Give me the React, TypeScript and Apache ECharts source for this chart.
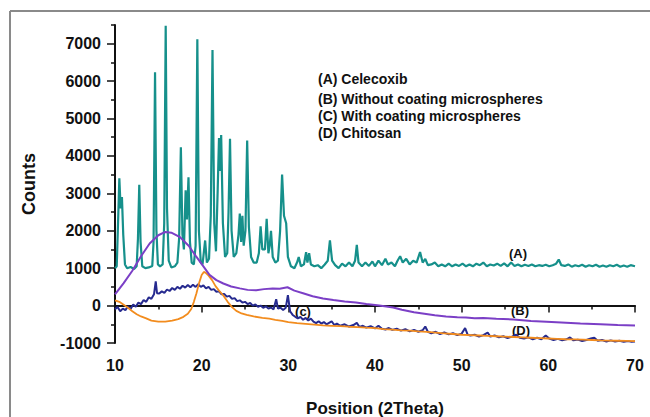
import React, { useEffect, useRef } from "react";
import * as echarts from "echarts";

// ---- Data ----
const xTicks = [10, 20, 30, 40, 50, 60, 70];
const yMajorTicks = [-1000, 0, 1000, 2000, 3000, 4000, 5000, 6000, 7000];
const yMinorTicks = [-500, 500, 1500, 2500, 3500, 4500, 5500, 6500, 7500];

const legendLines = [
  "(A) Celecoxib",
  "(B) Without coating microspheres",
  "(C) With coating microspheres",
  "(D) Chitosan",
];

const curveLabels = ["(A)", "(B)", "(c)", "(D)"];

// (A) Celecoxib
const seriesA: number[][] = [
  [10, 1000], [10.2, 1050], [10.35, 2200], [10.5, 3400], [10.65, 2600], [10.8, 2900], [10.95, 1900],
  [11.15, 1100], [11.4, 1000], [11.8, 1030], [12.2, 980], [12.5, 1050], [12.65, 1800], [12.8, 3230],
  [12.95, 1700], [13.15, 1050], [13.5, 1000], [13.9, 1020], [14.3, 1060], [14.45, 1700], [14.62, 6240],
  [14.78, 2000], [14.95, 1100], [15.2, 1050], [15.5, 1100], [15.68, 2200], [15.85, 7480], [16.0, 2600],
  [16.2, 1200], [16.5, 1020], [16.9, 1050], [17.2, 1150], [17.4, 1800], [17.6, 4230], [17.78, 1900],
  [17.95, 1500], [18.15, 3080], [18.3, 2300], [18.48, 3430], [18.65, 1700], [18.85, 1150], [19.1, 1100],
  [19.3, 1600], [19.5, 7120], [19.68, 2000], [19.9, 1150], [20.1, 1100], [20.4, 1740], [20.6, 1150],
  [20.85, 1250], [21.05, 2400], [21.25, 6830], [21.45, 2200], [21.65, 1450], [21.85, 3100], [22.0, 4480],
  [22.12, 3600], [22.25, 4560], [22.45, 2200], [22.7, 1300], [22.95, 1400], [23.1, 2500], [23.27, 4460],
  [23.45, 2000], [23.7, 1300], [24.0, 1400], [24.25, 1900], [24.4, 2460], [24.55, 1700], [24.7, 2400],
  [24.85, 1600], [25.05, 2000], [25.25, 4410], [25.45, 2100], [25.7, 1300], [26.0, 1150], [26.35, 1150],
  [26.6, 1400], [26.8, 2120], [27.0, 1500], [27.3, 1500], [27.5, 2320], [27.7, 1400], [27.85, 1600],
  [28.0, 2000], [28.2, 1300], [28.5, 1150], [28.8, 1200], [29.05, 2000], [29.28, 3500], [29.5, 2400],
  [29.75, 2200], [29.95, 1300], [30.3, 1050], [30.7, 1000], [31.0, 1150], [31.2, 1300], [31.45, 1050],
  [31.8, 1100], [32.05, 1430], [32.2, 1150], [32.4, 1400], [32.6, 1100], [33.0, 1050], [33.4, 1080],
  [33.8, 1000], [34.2, 1100], [34.55, 1200], [34.8, 1740], [35.05, 1200], [35.4, 1080], [35.8, 1000],
  [36.2, 1120], [36.6, 1050], [37.0, 1150], [37.4, 1050], [37.7, 1200], [37.9, 1620], [38.1, 1150],
  [38.5, 1050], [38.9, 1150], [39.3, 1060], [39.7, 1180], [40.0, 1050], [40.4, 1200], [40.8, 1080],
  [41.2, 1250], [41.5, 1100], [41.9, 1150], [42.3, 1050], [42.6, 1200], [42.9, 1320], [43.2, 1150],
  [43.6, 1250], [44.0, 1100], [44.4, 1200], [44.8, 1150], [45.2, 1430], [45.5, 1150], [45.8, 1250],
  [46.1, 1080], [46.5, 1100], [46.9, 1150], [47.3, 1050], [47.7, 1100], [48.1, 1050], [48.5, 1120],
  [48.9, 1050], [49.3, 1100], [49.7, 1060], [50.1, 1120], [50.5, 1050], [50.9, 1100], [51.3, 1050],
  [51.7, 1120], [52.1, 1080], [52.5, 1150], [52.9, 1050], [53.3, 1100], [53.7, 1070], [54.1, 1120],
  [54.5, 1060], [54.9, 1130], [55.3, 1050], [55.7, 1150], [56.1, 1060], [56.5, 1100], [56.9, 1050],
  [57.3, 1090], [57.7, 1060], [58.1, 1100], [58.5, 1050], [58.9, 1080], [59.3, 1060], [59.7, 1090],
  [60.1, 1050], [60.5, 1080], [60.9, 1120], [61.2, 1230], [61.5, 1080], [61.9, 1060], [62.3, 1100],
  [62.7, 1040], [63.1, 1080], [63.5, 1050], [63.9, 1090], [64.3, 1040], [64.7, 1080], [65.1, 1050],
  [65.5, 1090], [65.9, 1040], [66.3, 1070], [66.7, 1040], [67.1, 1080], [67.5, 1050], [67.9, 1090],
  [68.3, 1040], [68.7, 1070], [69.1, 1040], [69.5, 1080], [70.0, 1050],
];

// (B) Without coating microspheres
const seriesB: number[][] = [
  [10, 300], [11, 600], [12, 930], [13, 1320], [14, 1660], [15, 1880], [15.8, 1970], [16.5, 1950],
  [17.5, 1830], [18.5, 1600], [19.4, 1300], [20.2, 1050], [20.9, 820], [21.7, 680], [22.5, 590],
  [23.4, 510], [24.4, 460], [25.3, 420], [26.3, 410], [27.2, 440], [28.2, 460], [29.0, 450], [29.9, 490],
  [30.7, 400], [31.7, 330], [32.8, 250], [34.0, 190], [35.2, 150], [36.5, 110], [37.8, 80], [39.0, 40],
  [40.5, 0], [42.1, -50], [43.1, -110], [44.5, -180], [45.7, -220], [46.9, -260], [48.2, -290],
  [49.5, -310], [50.5, -320], [51.5, -340], [52.5, -330], [54.0, -350], [56.0, -370], [58.0, -410],
  [59.8, -430], [61.5, -450], [63.7, -480], [66.0, -500], [68.0, -520], [70.0, -530],
];

// (C) With coating microspheres
const seriesC: number[][] = [
  [10, -100], [10.3, -40], [10.6, -150], [10.9, -80], [11.2, -120], [11.5, -20], [11.8, -90], [12.1, 30],
  [12.4, -30], [12.7, 80], [13.0, 40], [13.3, 150], [13.6, 100], [13.9, 220], [14.2, 180], [14.5, 300],
  [14.7, 650], [14.85, 330], [15.1, 320], [15.4, 380], [15.7, 340], [16.0, 430], [16.3, 390], [16.6, 470],
  [16.9, 420], [17.2, 500], [17.5, 450], [17.8, 530], [18.1, 480], [18.4, 550], [18.7, 490], [19.0, 560],
  [19.3, 500], [19.6, 570], [19.9, 500], [20.2, 540], [20.5, 460], [20.8, 500], [21.1, 420], [21.4, 440],
  [21.7, 370], [22.0, 380], [22.3, 300], [22.6, 310], [22.9, 240], [23.2, 260], [23.5, 180], [23.8, 200],
  [24.1, 120], [24.4, 140], [24.7, 80], [25.0, 100], [25.3, 40], [25.6, 70], [25.9, 0], [26.2, 30],
  [26.5, -30], [26.8, 0], [27.1, -60], [27.4, -20], [27.7, -80], [28.0, -50], [28.3, -100], [28.6, 170],
  [28.8, -80], [29.1, -60], [29.4, -120], [29.7, -60], [29.95, 280], [30.2, -150], [30.5, -250],
  [30.8, -300], [31.1, -340], [31.4, -300], [31.7, -380], [32.0, -330], [32.3, -400], [32.6, -350],
  [32.9, -430], [33.2, -470], [33.5, -420], [33.8, -480], [34.1, -440], [34.4, -500], [34.7, -460],
  [35.0, -420], [35.3, -520], [35.6, -480], [36.0, -540], [36.5, -500], [37.0, -560], [37.5, -520],
  [37.9, -460], [38.2, -570], [38.6, -540], [39.0, -590], [39.5, -550], [40.0, -610], [40.4, -540],
  [40.8, -620], [41.2, -640], [41.6, -600], [42.0, -650], [42.5, -620], [43.0, -670], [43.5, -630],
  [44.0, -690], [44.5, -650], [45.0, -700], [45.5, -660], [45.8, -560], [46.1, -700], [46.5, -740],
  [47.0, -700], [47.5, -760], [48.0, -720], [48.5, -770], [49.0, -740], [49.5, -790], [50.0, -750],
  [50.4, -600], [50.7, -780], [51.0, -800], [51.5, -780], [52.0, -830], [52.5, -790], [53.0, -720],
  [53.3, -830], [53.8, -800], [54.3, -850], [54.8, -820], [55.3, -870], [55.8, -830], [56.3, -780],
  [56.7, -860], [57.2, -880], [57.7, -850], [58.2, -900], [58.7, -860], [59.2, -900], [59.7, -800],
  [60.1, -880], [60.6, -920], [61.1, -890], [61.6, -930], [62.1, -900], [62.5, -850], [62.9, -930],
  [63.4, -910], [63.9, -950], [64.4, -920], [64.9, -880], [65.3, -860], [65.7, -940], [66.2, -920],
  [66.7, -960], [67.2, -930], [67.7, -960], [68.2, -940], [68.7, -970], [69.2, -950], [69.6, -970],
  [70.0, -960],
];

// (D) Chitosan
const seriesD: number[][] = [
  [10, 140], [10.5, 100], [11, 20], [11.5, -60], [12, -150], [12.5, -230], [13, -290], [13.6, -340],
  [14.2, -400], [15.0, -430], [15.8, -430], [16.6, -400], [17.3, -360], [17.9, -300], [18.4, -220],
  [18.8, -90], [19.1, 100], [19.4, 330], [19.7, 600], [20.0, 820], [20.25, 900], [20.5, 870],
  [20.8, 800], [21.2, 680], [21.6, 520], [22.0, 400], [22.5, 270], [23.0, 100], [23.5, -40],
  [24.0, -140], [24.6, -210], [25.2, -250], [26.0, -290], [27.0, -330], [27.8, -350], [28.5, -380],
  [29.3, -410], [30.0, -440], [31.0, -470], [32.0, -490], [33.0, -510], [34.0, -530], [35.0, -540],
  [36.0, -550], [37.0, -565], [38.0, -575], [39.0, -590], [40.0, -600], [41.0, -630], [42.0, -640],
  [43.0, -660], [44.0, -670], [45.0, -690], [46.0, -700], [47.0, -720], [48.0, -740], [49.0, -760],
  [50.0, -780], [51.0, -790], [52.0, -800], [53.0, -810], [54.0, -820], [55.0, -830], [56.0, -840],
  [57.0, -850], [58.0, -860], [59.0, -870], [60.0, -880], [61.0, -890], [62.0, -900], [63.0, -905],
  [64.0, -910], [65.0, -920], [66.0, -930], [67.0, -935], [68.0, -940], [69.0, -945], [70.0, -950],
];

const FONT = '"Liberation Sans", Arial, sans-serif';
const colA = "#16908b";
const colB = "#7b3fc6";
const colC = "#262a8f";
const colD = "#f28c1e";

export default function App() {
  const ref = useRef<HTMLDivElement>(null);

  useEffect(() => {
    if (!ref.current) return;
    const chart = echarts.init(ref.current, undefined, { renderer: "svg" });

    const lineSeries = (name: string, data: number[][], color: string, width: number) => ({
      name,
      type: "line",
      data,
      showSymbol: false,
      symbol: "none",
      smooth: false,
      lineStyle: { color, width },
      itemStyle: { color },
      xAxisIndex: 0,
      yAxisIndex: 0,
    });

    const legendYs = [79, 99, 116, 133];
    const labelPos = [
      [518, 253],
      [520, 310],
      [303, 311],
      [521, 330],
    ];

    const plainNum = (v: number) => String(v);

    chart.setOption({
      animation: false,
      backgroundColor: "#ffffff",
      grid: { left: 115, right: 15, top: 25, bottom: 74, containLabel: false },
      xAxis: [
        {
          type: "value",
          min: 10,
          max: 70,
          interval: 10,
          axisLine: { show: true, lineStyle: { color: "#111", width: 2 } },
          axisTick: { show: true, inside: false, length: 7, lineStyle: { color: "#111", width: 1.5 } },
          minorTick: { show: true, splitNumber: 2, length: 4, lineStyle: { color: "#111", width: 1.5 } },
          splitLine: { show: false },
          axisLabel: {
            customValues: xTicks,
            formatter: plainNum,
            margin: 14,
            color: "#111",
            fontSize: 16,
            fontWeight: "bold",
            fontFamily: FONT,
          },
        },
      ],
      yAxis: [
        {
          type: "value",
          min: -1000,
          max: 7500,
          position: "left",
          axisLine: { show: true, lineStyle: { color: "#111", width: 2 } },
          axisTick: {
            show: true,
            customValues: yMajorTicks,
            inside: false,
            length: 8,
            lineStyle: { color: "#111", width: 1.5 },
          },
          splitLine: { show: false },
          axisLabel: {
            customValues: yMajorTicks,
            formatter: plainNum,
            margin: 14,
            color: "#111",
            fontSize: 16,
            fontWeight: "bold",
            fontFamily: FONT,
          },
        },
        {
          type: "value",
          min: -1000,
          max: 7500,
          position: "left",
          axisLine: { show: false },
          axisTick: {
            show: true,
            customValues: yMinorTicks,
            inside: false,
            length: 4,
            lineStyle: { color: "#111", width: 1.5 },
          },
          splitLine: { show: false },
          axisLabel: { show: false },
        },
      ],
      series: [
        lineSeries("(A) Celecoxib", seriesA, colA, 2.2),
        lineSeries("(C) With coating microspheres", seriesC, colC, 2),
        lineSeries("(D) Chitosan", seriesD, colD, 1.8),
        lineSeries("(B) Without coating microspheres", seriesB, colB, 2),
      ],
      graphic: [
        { type: "line", shape: { x1: 10, y1: 11, x2: 650, y2: 11 }, style: { stroke: "#8a8a8a", lineWidth: 2 } },
        { type: "line", shape: { x1: 10, y1: 11, x2: 10, y2: 417 }, style: { stroke: "#8a8a8a", lineWidth: 2 } },
        ...legendLines.map((t, i) => ({
          type: "text",
          x: 318,
          y: legendYs[i],
          style: {
            text: t,
            fill: "#111",
            font: `bold 14px ${FONT}`,
            align: "left",
            verticalAlign: "middle",
          },
        })),
        ...curveLabels.map((t, i) => ({
          type: "text",
          x: labelPos[i][0],
          y: labelPos[i][1],
          style: {
            text: t,
            fill: "#111",
            font: `bold 13px ${FONT}`,
            align: "center",
            verticalAlign: "middle",
          },
        })),
        {
          type: "text",
          x: 29,
          y: 184,
          rotation: Math.PI / 2,
          style: {
            text: "Counts",
            fill: "#111",
            font: `bold 18px ${FONT}`,
            align: "center",
            verticalAlign: "middle",
          },
        },
        {
          type: "text",
          x: 375,
          y: 408,
          style: {
            text: "Position (2Theta)",
            fill: "#111",
            font: `bold 17px ${FONT}`,
            align: "center",
            verticalAlign: "middle",
          },
        },
      ],
    });

    return () => chart.dispose();
  }, []);

  return (
    <div
      ref={ref}
      style={{ position: "fixed", left: 0, top: 0, width: 650, height: 417, background: "#fff" }}
    />
  );
}
